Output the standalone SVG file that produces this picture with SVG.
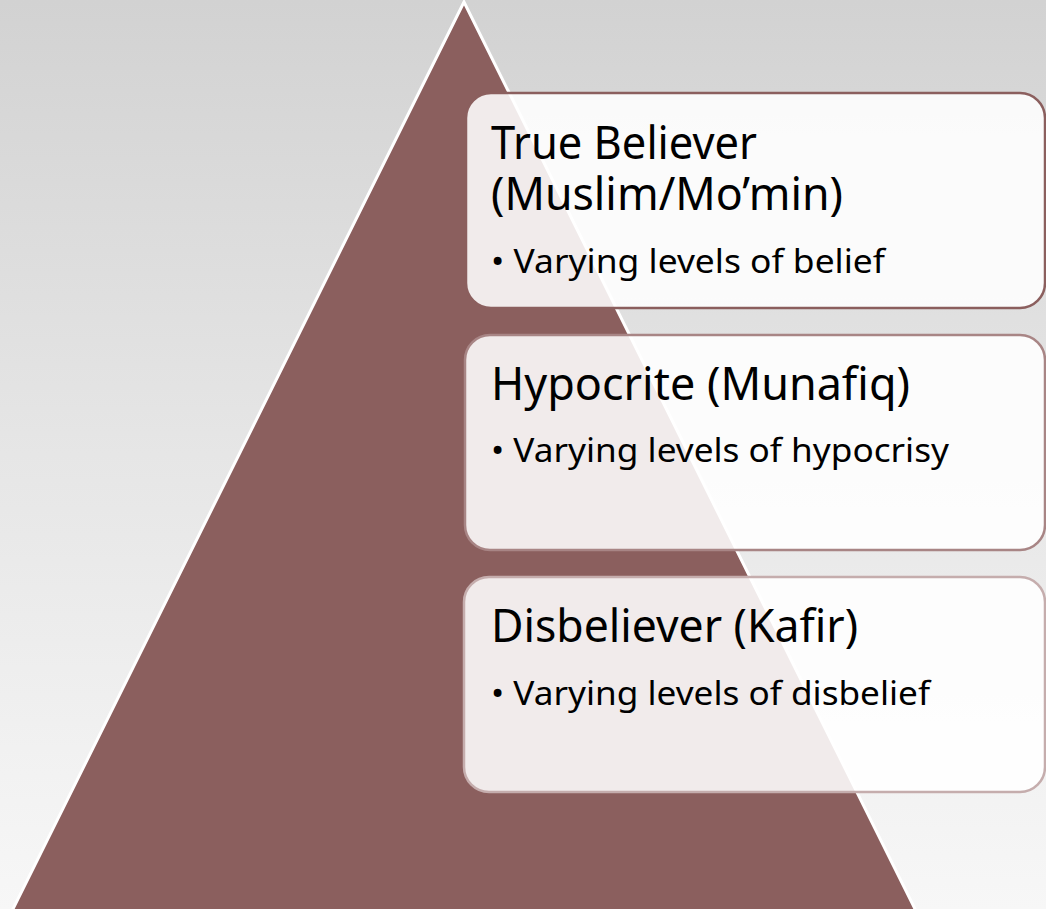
<svg xmlns="http://www.w3.org/2000/svg" width="1046" height="909" viewBox="0 0 1046 909">
<defs>
<linearGradient id="bg" x1="0" y1="0" x2="0" y2="1">
<stop offset="0" stop-color="#d2d2d2"/>
<stop offset="0.5" stop-color="#e6e6e6"/>
<stop offset="1" stop-color="#f7f7f7"/>
</linearGradient>
</defs>
<style>
.box{fill:#ffffff;fill-opacity:0.88;stroke-width:2.5}
.t{font-family:"Noto Sans","Open Sans",sans-serif;fill:#000}
.h{font-size:45px}
.b{font-size:33px}
</style>
<rect width="1046" height="909" fill="url(#bg)"/>
<g id="pyramid">
<polygon points="464,2 10,915 918,915" fill="#8b5f5e" stroke="#ffffff" stroke-width="3"/>
</g>
<g id="node-believer">
<rect class="box" x="466" y="93" width="579" height="215" rx="25" stroke="#8b5f5e"/>
<text class="t h"><tspan x="491" y="159" textLength="266" lengthAdjust="spacingAndGlyphs">True Believer</tspan><tspan x="491" y="210" textLength="352" lengthAdjust="spacingAndGlyphs">(Muslim/Mo’min)</tspan></text>
<text class="t b" x="491" y="273" textLength="394" lengthAdjust="spacingAndGlyphs">• Varying levels of belief</text>
</g>
<g id="node-hypocrite">
<rect class="box" x="465" y="335" width="580" height="215" rx="25" stroke="#a88585"/>
<text class="t h" x="491" y="400" textLength="419" lengthAdjust="spacingAndGlyphs">Hypocrite (Munafiq)</text>
<text class="t b" x="491" y="462" textLength="458" lengthAdjust="spacingAndGlyphs">• Varying levels of hypocrisy</text>
</g>
<g id="node-disbeliever">
<rect class="box" x="464" y="577" width="581" height="215" rx="25" stroke="#c5adad"/>
<text class="t h" x="491" y="642" textLength="367" lengthAdjust="spacingAndGlyphs">Disbeliever (Kafir)</text>
<text class="t b" x="491" y="705" textLength="439" lengthAdjust="spacingAndGlyphs">• Varying levels of disbelief</text>
</g>
<g id="connectors"/>
</svg>
